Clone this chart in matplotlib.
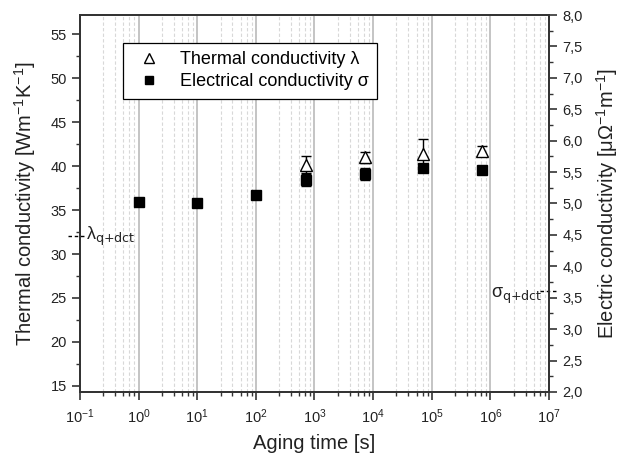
import numpy as np
import matplotlib
matplotlib.use("Agg")
import matplotlib.pyplot as plt
from matplotlib.lines import Line2D
from matplotlib.ticker import FixedLocator, MultipleLocator, FuncFormatter, NullFormatter

plt.rcParams['font.family'] = ['Liberation Sans', 'DejaVu Sans']
plt.rcParams['mathtext.default'] = 'regular'

###############
## data
aging_time = [1, 10, 100, 720, 7200, 72000, 720000]
sigma = [5.02, 5.00, 5.13, 5.38, 5.47, 5.57, 5.54]
sigma_err = [0, 0, 0, 0.10, 0.10, 0.03, 0.03]

aging_time_lam = [720, 7200, 72000, 720000]
lam = [40.1, 41.0, 41.35, 41.75]
lam_err = [1.0, 0.6, 1.7, 0.6]

lam_ref = 32.0
sigma_ref = 3.6

left_ylim = (14.3, 57.2)
right_ylim = (2.0, 8.0)
xlim = (1e-1, 1e7)
##############

fig = plt.figure(figsize=(6.24, 4.55), dpi=100)
ax = fig.add_axes([0.128, 0.1385, 0.752, 0.8285])
ax2 = ax.twinx()

ax.set_xscale('log')
ax.set_xlim(*xlim)
ax.set_ylim(*left_ylim)
ax2.set_ylim(*right_ylim)

# origin style minor ticks: linear steps inside each decade
decades = np.arange(-1, 7)
minor = [m * 10.0**d for d in decades for m in (2.5, 4, 5.5, 7, 8.5)]
ax.xaxis.set_major_locator(FixedLocator([10.0**d for d in range(-1, 8)]))
ax.xaxis.set_minor_locator(FixedLocator(minor))
ax.xaxis.set_minor_formatter(NullFormatter())
ax.xaxis.set_major_formatter(FuncFormatter(lambda v, p: r'$10^{%d}$' % round(np.log10(v))))

ax.yaxis.set_major_locator(MultipleLocator(5))
ax.yaxis.set_minor_locator(MultipleLocator(2.5))
ax2.yaxis.set_major_locator(MultipleLocator(0.5))
ax2.yaxis.set_minor_locator(MultipleLocator(0.25))
ax2.yaxis.set_major_formatter(FuncFormatter(lambda v, p: ('%.1f' % v).replace('.', ',')))

# grid only vertical
ax.grid(True, which='major', axis='x', color='#c4c4c4', lw=1.4, ls='-')
ax.grid(True, which='minor', axis='x', color='#d8d8d8', lw=0.8, ls=(0, (3, 2)))
ax.set_axisbelow(True)

tc = '#222222'
for a in (ax, ax2):
    for s in a.spines.values():
        s.set_linewidth(1.3)
        s.set_color('#333333')
    a.tick_params(which='major', length=6, width=1.2, colors='#333333', labelcolor=tc, labelsize=10.5)
    a.tick_params(which='minor', length=3, width=1.0, colors='#333333')
# bottom ticks out, top ticks in (top ones drawn by the twin axes)
ax.tick_params(axis='x', which='both', top=False, bottom=True, direction='out', pad=5)
ax2.tick_params(axis='x', which='both', top=True, bottom=False, labeltop=False,
                labelbottom=False, direction='in')

ax2.errorbar(aging_time, sigma, yerr=sigma_err, fmt='s', ms=6.5, color='black',
             ecolor='black', elinewidth=1, capsize=3.3, capthick=1, zorder=3)
ax.errorbar(aging_time_lam, lam, yerr=lam_err, fmt='^', ms=8, mfc='white', mec='black',
            mew=1, ecolor='black', elinewidth=1, capsize=3.3, capthick=1, zorder=4)

ax.set_xlabel('Aging time [s]', fontsize=14.5, color=tc, labelpad=6)
ax.set_ylabel(r'Thermal conductivity [Wm$^{-1}$K$^{-1}$]', fontsize=14.5, color=tc, labelpad=9)
ax2.set_ylabel(r'Electric conductivity [μΩ$^{-1}$m$^{-1}$]', fontsize=14.5, color=tc, labelpad=8)

# reference levels
ax.plot([-0.026, 0.009], [lam_ref, lam_ref], transform=ax.get_yaxis_transform(),
        ls=(0, (2.5, 2)), color='black', lw=1, clip_on=False)
ax.text(0.012, lam_ref, r'λ$_\mathrm{q{+}dct}$', transform=ax.get_yaxis_transform(),
        fontsize=13, va='center', ha='left', color=tc)
ax2.plot([0.98, 1.017], [sigma_ref, sigma_ref], transform=ax2.get_yaxis_transform(),
         ls=(0, (2.5, 2)), color='black', lw=1, clip_on=False)
ax2.text(0.986, sigma_ref - 0.07, r'σ$_\mathrm{q{+}dct}$', transform=ax2.get_yaxis_transform(),
         fontsize=13, va='center', ha='right', color=tc)

handles = [Line2D([], [], ls='none', marker='^', ms=7, mfc='white', mec='black'),
           Line2D([], [], ls='none', marker='s', ms=6, color='black')]
leg = ax2.legend(handles, ['Thermal conductivity λ', 'Electrical conductivity σ'],
                 loc='upper left', bbox_to_anchor=(0.092, 0.926), borderaxespad=0,
                 fancybox=False, framealpha=1, edgecolor='black', fontsize=13,
                 handletextpad=0.7, borderpad=0.45, labelspacing=0.3)
leg.get_frame().set_linewidth(0.9)
leg.set_zorder(10)

fig.savefig('out.png', dpi=100)
